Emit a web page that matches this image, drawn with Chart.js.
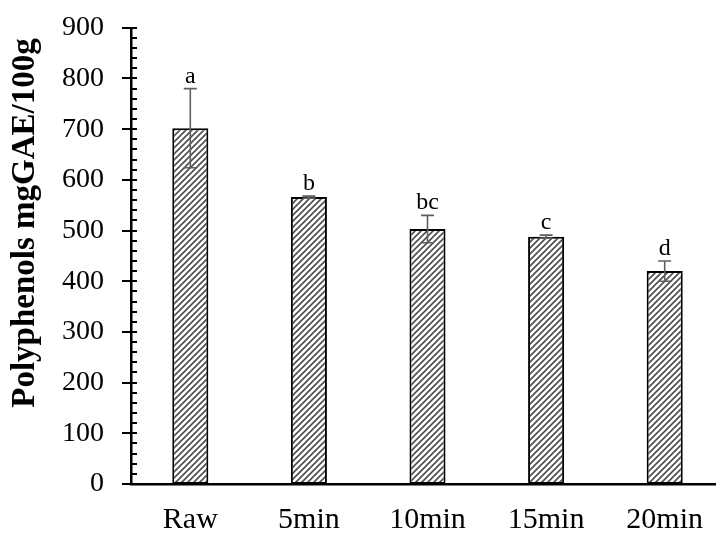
<!DOCTYPE html>
<html>
<head>
<meta charset="utf-8">
<script src="https://cdn.jsdelivr.net/npm/chart.js@4.4.1/dist/chart.umd.min.js"></script>
<style>
  html, body { margin: 0; padding: 0; background: #fff; overflow: hidden; }
  #wrap { width: 740px; height: 533px; overflow: hidden; }
  #chart { display: block; margin-top: -8px; }
</style>
</head>
<body>
<div id="wrap"><canvas id="chart" width="740" height="556"></canvas></div>
<script>
// --- DATA ---
const categories = ['Raw', '5min', '10min', '15min', '20min'];
const polyphenols = [702, 566, 503, 488, 420];
const errors = [78, 2, 27, 3, 20];
const letters = ['a', 'b', 'bc', 'c', 'd'];
const yTitle = 'Polyphenols mgGAE/100g';
const yMin = 0;
const yMax = 900;
const yStep = 100;
const yMinorStep = 20;

const FONT = '"Liberation Serif", "Times New Roman", serif';

// diagonal hatch fill like the spreadsheet pattern
function hatchPattern(ctx) {
    const c = document.createElement('canvas');
    c.width = 6; c.height = 6;
    const g = c.getContext('2d');
    g.fillStyle = '#fff';
    g.fillRect(0, 0, 6, 6);
    g.strokeStyle = '#4d4d4d';
    g.lineWidth = 1.6;
    g.beginPath();
    g.moveTo(0, 6); g.lineTo(6, 0);
    g.moveTo(-1, 1); g.lineTo(1, -1);
    g.moveTo(5, 7); g.lineTo(7, 5);
    g.stroke();
    return ctx.createPattern(c, 'repeat');
}

// error bars, significance letters, y tick marks and the axis title
const extras = {
    id: 'extras',
    afterDatasetsDraw(chart) {
        const ctx = chart.ctx;
        const x = chart.scales.x;
        const y = chart.scales.y;
        ctx.save();

        ctx.strokeStyle = '#5f5f5f';
        ctx.lineWidth = 1.6;
        polyphenols.forEach((v, i) => {
            const px = x.getPixelForValue(i);
            const top = y.getPixelForValue(v + errors[i]);
            const bot = y.getPixelForValue(v - errors[i]);
            ctx.beginPath();
            ctx.moveTo(px, top); ctx.lineTo(px, bot);
            ctx.moveTo(px - 6.5, top); ctx.lineTo(px + 6.5, top);
            ctx.moveTo(px - 6.5, bot); ctx.lineTo(px + 6.5, bot);
            ctx.stroke();

            ctx.fillStyle = '#000';
            ctx.font = '24px ' + FONT;
            ctx.textAlign = 'center';
            ctx.textBaseline = 'alphabetic';
            ctx.fillText(letters[i], px, top - 6);
        });

        // major ticks cross the axis, minor ticks sit inside
        const ax = chart.chartArea.left;
        ctx.strokeStyle = '#000';
        ctx.lineWidth = 2;
        ctx.beginPath();
        for (let v = yMin; v <= yMax; v += yMinorStep) {
            const py = Math.round(y.getPixelForValue(v));
            if (v % yStep === 0) {
                ctx.moveTo(ax - 9, py); ctx.lineTo(ax + 6, py);
            } else {
                ctx.moveTo(ax, py); ctx.lineTo(ax + 6, py);
            }
        }
        ctx.stroke();

        // y title sits a little above the axis middle, as in the original
        ctx.translate(25, 231);
        ctx.rotate(-Math.PI / 2);
        ctx.font = 'bold 33px ' + FONT;
        ctx.textAlign = 'center';
        ctx.textBaseline = 'middle';
        ctx.fillText(yTitle, 0, 0);
        ctx.restore();
    }
};

const ctx = document.getElementById('chart').getContext('2d');

new Chart(ctx, {
    type: 'bar',
    data: {
        labels: categories,
        datasets: [{
            data: polyphenols,
            backgroundColor: hatchPattern(ctx),
            borderColor: '#000',
            borderWidth: 2,
            borderSkipped: false,
            barPercentage: 0.304,
            categoryPercentage: 1
        }]
    },
    options: {
        responsive: false,
        animation: false,
        layout: { padding: { top: 0, right: 16, bottom: 0, left: 43 } },
        plugins: {
            legend: { display: false },
            tooltip: { enabled: false }
        },
        scales: {
            x: {
                grid: { display: false },
                border: { display: true, color: '#000', width: 2.5 },
                ticks: { color: '#000', font: { family: FONT, size: 30, lineHeight: 1 }, padding: 13 }
            },
            y: {
                min: yMin,
                max: yMax,
                grid: { display: false },
                border: { display: true, color: '#000', width: 2.5 },
                ticks: {
                    stepSize: yStep,
                    color: '#000',
                    font: { family: FONT, size: 28 },
                    padding: 19
                }
            }
        }
    },
    plugins: [extras]
});
</script>
</body>
</html>
